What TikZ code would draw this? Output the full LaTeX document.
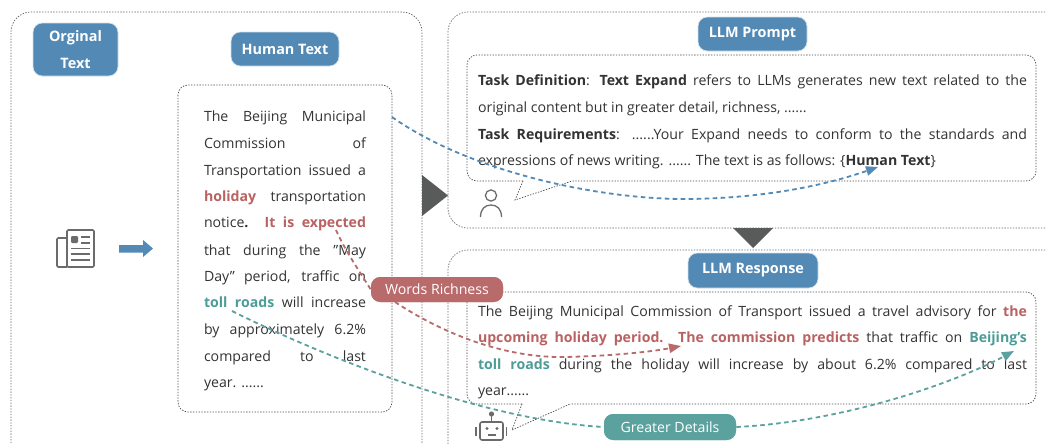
\documentclass[tikz,border=0pt]{standalone}
\usepackage{fontspec}
\setmainfont{Open Sans}
\usetikzlibrary{arrows.meta}
\newlength\pxu \pxu=0.75pt
\definecolor{pblue}{HTML}{5289B5}
\definecolor{pred}{HTML}{B96B6B}
\definecolor{pteal}{HTML}{5BA19E}
\definecolor{tred}{HTML}{BA6262}
\definecolor{tteal}{HTML}{4E9C98}
\definecolor{body}{HTML}{333333}
\definecolor{icon}{HTML}{6B6B6B}
\definecolor{tri}{HTML}{595B5A}
\newcommand{\rd}[1]{\textcolor{tred}{\textbf{#1}}}
\newcommand{\tl}[1]{\textcolor{tteal}{\textbf{#1}}}
\newcommand{\jline}[5]{\node[txt,anchor=base west] (#1) at (#2,#4) {\makebox[\dimexpr#3\pxu-#2\pxu\relax][s]{#5}};}
\newcommand{\fline}[4]{\node[txt,anchor=base west] (#1) at (#2,#3) {#4};}
\tikzset{
  x=0.75pt,y=-0.75pt,
  txt/.style={inner sep=0pt,outer sep=0pt,text=body,font=\fontsize{10.6pt}{13pt}\selectfont},
  dotbox/.style={draw=black!70,line width=0.55pt,dash pattern=on 1pt off 1.1pt,rounded corners=7.5pt},
  dotouter/.style={draw=black!60,line width=0.55pt,dash pattern=on 1pt off 1.1pt,rounded corners=15pt},
  pill/.style={draw=white!75!pblue,line width=0.5pt,fill=pblue,rounded corners=7pt,text=white,align=center,inner sep=0pt,font=\fontsize{10.8pt}{20pt}\selectfont\bfseries},
  tag/.style={rounded corners=7pt,text=white,align=center,inner sep=0pt,font=\fontsize{10.6pt}{13pt}\selectfont},
  conn/.style={line width=1.35pt,dash pattern=on 3.4pt off 2.6pt},
  tip/.style={-{Triangle[length=9pt,width=7pt]}},
  ico/.style={draw=icon,line width=1.05pt},
}
\begin{document}
\begin{tikzpicture}
\useasboundingbox (0,0) rectangle (1046,443);
\clip (0,0) rectangle (1046,443);
\fill[white] (0,0) rectangle (1046,443);
% outer containers
\draw[dotouter] (11,480) rectangle (422,12);
\draw[dotouter] (1090,12) -- (448,12) -- (448,228) -- (1090,228);
\draw[dotouter] (1090,250) -- (448,250) -- (448,480);
% triangles
\fill[tri] (422,175) -- (448,195.5) -- (422,216) -- cycle;
\fill[tri] (733,228) -- (773,228) -- (753,248) -- cycle;
% inner boxes
\draw[dotbox] (178,85) rectangle (392,412);
\coordinate (hsrc) at (392,117);
\draw[dotbox] (523,181) -- (467,181) -- (467,55) -- (1036,55) -- (1036,181) -- (572,181);
\draw[draw=black!70,line width=0.55pt,dash pattern=on 1pt off 1.1pt] (523,181) -- (515,200) -- (572,181);
\draw[dotbox] (522,404) -- (467,404) -- (467,292) -- (1036,292) -- (1036,404) -- (570,404);
\draw[draw=black!70,line width=0.55pt,dash pattern=on 1pt off 1.1pt] (522,404) -- (512,430) -- (570,404);
% human text
\jline{h1}{204}{366}{121.7}{The Beijing Municipal}
\jline{h2}{204}{366}{148.3}{Commission of}
\jline{h3}{204}{366}{175}{Transportation issued a}
\jline{h4}{204}{366}{201.7}{\rd{holiday} transportation}
\jline{h5}{204}{366}{227.7}{notice\textbf{.} \rd{It is expected}}
\jline{h6}{204}{366}{255}{that during the "May}
\jline{h7}{204}{366}{281}{Day" period, traffic on}
\jline{h8}{204}{366}{307.7}{\tl{toll roads} will increase}
\jline{h9}{204}{366}{334.3}{by approximately 6.2\%}
\jline{h10}{204}{366}{361}{compared to last}
\fline{h11}{204}{387.7}{year. ......}
% prompt text
\jline{p1}{478}{1027}{85}{\textbf{Task Definition}: \textbf{Text Expand} refers to LLMs generates new text related to the}
\fline{p2}{478}{112}{original content but in greater detail, richness, ......}
\jline{p3}{478}{1027}{139}{\textbf{Task Requirements}: ......Your Expand needs to conform to the standards and}
\fline{p4}{478}{165.7}{expressions of news writing. ...... The text is as follows: \{\textbf{Human Text}\}}
% response text
\jline{r1}{478}{1027}{316}{The Beijing Municipal Commission of Transport issued a travel advisory for \rd{the}}
\jline{r2}{478}{1027}{342.7}{\rd{upcoming holiday period. The commission predicts} that traffic on \tl{Beijing's}}
\jline{r3}{478}{1027}{369.3}{\tl{toll roads} during the holiday will increase by about 6.2\% compared to last}
\fline{r4}{478}{395}{year......}
% pills
\node[pill,minimum width=85\pxu,minimum height=53\pxu] (orig) at (75.5,49.5) {Orginal\\Text};
\node[pill,minimum width=108\pxu,minimum height=34\pxu] (human) at (285,49) {Human Text};
\node[pill,minimum width=109\pxu,minimum height=34\pxu] (prompt) at (752.5,34) {LLM Prompt};
\node[pill,minimum width=130\pxu,minimum height=35\pxu] (resp) at (753,270.5) {LLM Response};
% newspaper icon
\draw[ico,rounded corners=1pt,line width=1.2pt] (67,238) -- (57,238) -- (57,267) -- (67,267);
\draw[ico,rounded corners=1pt,line width=1.2pt] (67,230) rectangle (94,267);
\fill[icon,rounded corners=0.8pt] (71,236) rectangle (78,243);
\foreach \yy/\xa in {237/81,243/81,248.5/71,254/71,260/71}{\draw[icon,line width=1pt] (\xa,\yy) -- (90,\yy);}
% block arrow
\fill[pblue] (119,245) -- (143,245) -- (143,240) -- (153,248.5) -- (143,257) -- (143,252.5) -- (119,252.5) -- cycle;
% person
\draw[ico,line width=0.95pt] (491,195.5) circle[radius=5.6];
\draw[ico,line width=0.95pt] (480.5,217) .. controls (480.5,209) and (485,205) .. (491,205) .. controls (497,205) and (501.5,209) .. (501.5,217);
% robot
\draw[ico,rounded corners=1.5pt,line width=1.15pt] (480,422) rectangle (503,440);
\draw[ico] (491.5,422) -- (491.5,415);
\fill[icon] (491.5,414) circle[radius=2.6];
\draw[ico,line width=1.2pt] (476,427) -- (476,436);
\draw[ico,line width=1.2pt] (506.5,427) -- (506.5,436);
\fill[icon] (487,428.5) circle[radius=1.6];
\fill[icon] (497,428.5) circle[radius=1.6];
\fill[icon] (487.5,433.5) rectangle (495.5,436);
% connectors
\coordinate (ptgt) at (878,167);
\coordinate (rsrc) at (336,230);
\coordinate (rtgt) at (681,346);
\coordinate (tsrc) at (232,311);
\coordinate (ttgt) at (1014,351);
\node[tag,fill=pred,minimum width=132\pxu,minimum height=25\pxu] (rich) at (437,289.5) {Words Richness};
\node[tag,fill=pteal,minimum width=132\pxu,minimum height=26\pxu] (detail) at (670,427) {Greater Details};
\begin{scope}[on background layer/.try]
\end{scope}
\draw[conn,pblue,tip] (hsrc) .. controls (470,172) and (600,200) .. (690,199) .. controls (760,198) and (820,187) .. (ptgt);
\draw[conn,pred] (rsrc) .. controls (345,250) and (356,266) .. (rich.west);
\draw[conn,pred,tip] (395,302) .. controls (450,338) and (510,358) .. (565,357) .. controls (610,356) and (650,352) .. (rtgt);
\draw[conn,pteal] (tsrc) .. controls (320,355) and (480,420) .. (detail.west);
\draw[conn,pteal,tip] (detail.east) .. controls (840,422) and (950,385) .. (ttgt);
\node[tag,fill=pred,minimum width=132\pxu,minimum height=25\pxu] at (437,289.5) {Words Richness};
\node[tag,fill=pteal,minimum width=132\pxu,minimum height=26\pxu] at (670,427) {Greater Details};
\end{tikzpicture}
\end{document}
